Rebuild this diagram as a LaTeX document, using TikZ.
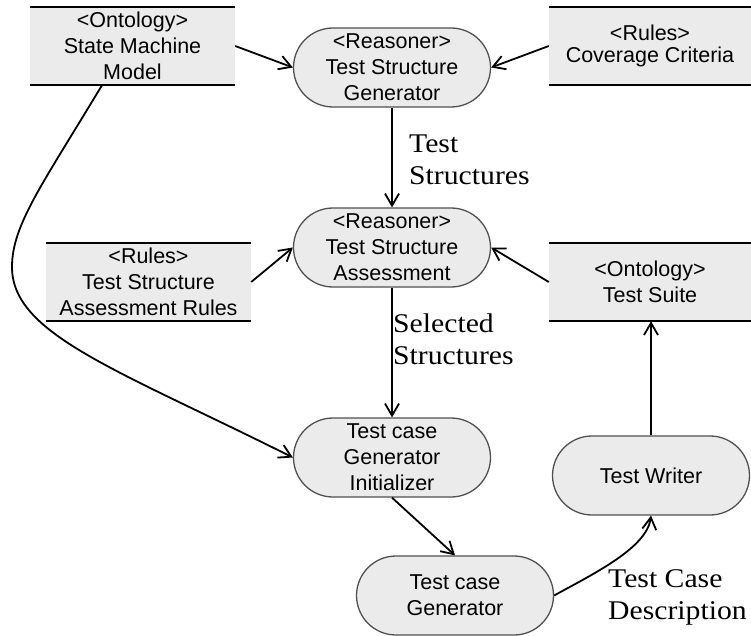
\documentclass[tikz,border=0pt]{standalone}
\usepackage{fontspec}
\usetikzlibrary{arrows.meta}
\newfontfamily\helv{Liberation Sans}
\newfontfamily\lblserif[FakeStretch=1.1]{Liberation Serif}
\definecolor{boxfill}{HTML}{EBEBEB}
\definecolor{procline}{HTML}{505050}
\begin{document}
\begin{tikzpicture}[x=1pt,y=-1pt,
  txt/.style={font=\helv\fontsize{21.5}{26}\selectfont, align=center},
  store/.style={txt, fill=boxfill, minimum width=205pt, minimum height=78pt, inner sep=0pt},
  proc/.style={txt, draw=procline, line width=1.3pt, fill=boxfill, rounded corners=39.5pt,
    minimum width=197pt, minimum height=79pt, inner sep=0pt},
  rule/.style={line width=1.8pt, black},
  arr/.style={line width=1.8pt, -{Straight Barb[length=12pt,width=14pt]}},
  lbl/.style={font=\lblserif\fontsize{27}{32}\selectfont, align=left, anchor=west, inner sep=0pt}]
\useasboundingbox (0,0) rectangle (751,636);

% data stores (ontologies and rule sets)
\node[store] (smm)  at (132.5,46) {<Ontology>\\State Machine\\Model};
\node[store, minimum width=202pt, font=\helv\fontsize{21.5}{22}\selectfont] (cov) at (650,46) {<Rules>\\Coverage Criteria};
\node[store] (tsar) at (148.5,282) {<Rules>\\Test Structure\\Assessment Rules};
\node[store, minimum width=202pt] (ts) at (650,282) {<Ontology>\\Test Suite};
\foreach \n in {smm,cov,tsar,ts}
  \draw[rule] (\n.north west) -- (\n.north east) (\n.south west) -- (\n.south east);

% processing steps
\node[proc] (tsg) at (392,67.5)    {<Reasoner>\\Test Structure\\Generator};
\node[proc] (tsa) at (392,247.5)   {<Reasoner>\\Test Structure\\Assessment};
\node[proc] (ini) at (392,457.5)   {Test case\\Generator\\Initializer};
\node[proc] (tw)  at (651,475.5)   {Test Writer};
\node[proc] (gen) at (455,595.5)   {Test case\\Generator};

% flow
\draw[arr] (smm.east) -- (tsg.west);
\draw[arr] (cov.west) -- (tsg.east);
\draw[arr] (tsg.south) -- (tsa.north);
\draw[arr] (tsar.east) -- (tsa.west);
\draw[arr] (ts.west) -- (tsa.east);
\draw[arr] (tsa.south) -- (ini.north);
\draw[arr] ([xshift=-30.5pt]smm.south) .. controls (42,185) and (12,225) .. (12,267)
           .. controls (12,334) and (116,369) .. (ini.west);
\draw[arr] (ini.south) -- (gen.north);
\draw[arr] (gen.east) .. controls (593,574) and (647,548) .. (tw.south);
\draw[arr] (tw.north) -- (tw.north |- ts.south);

% flow labels
\node[lbl] (l1) at (409,160) {Test\\Structures};
\node[lbl] (l2) at (393,339) {Selected\\Structures};
\node[lbl] (l3) at (608,597) {Test Case\\Description};
\end{tikzpicture}
\end{document}
